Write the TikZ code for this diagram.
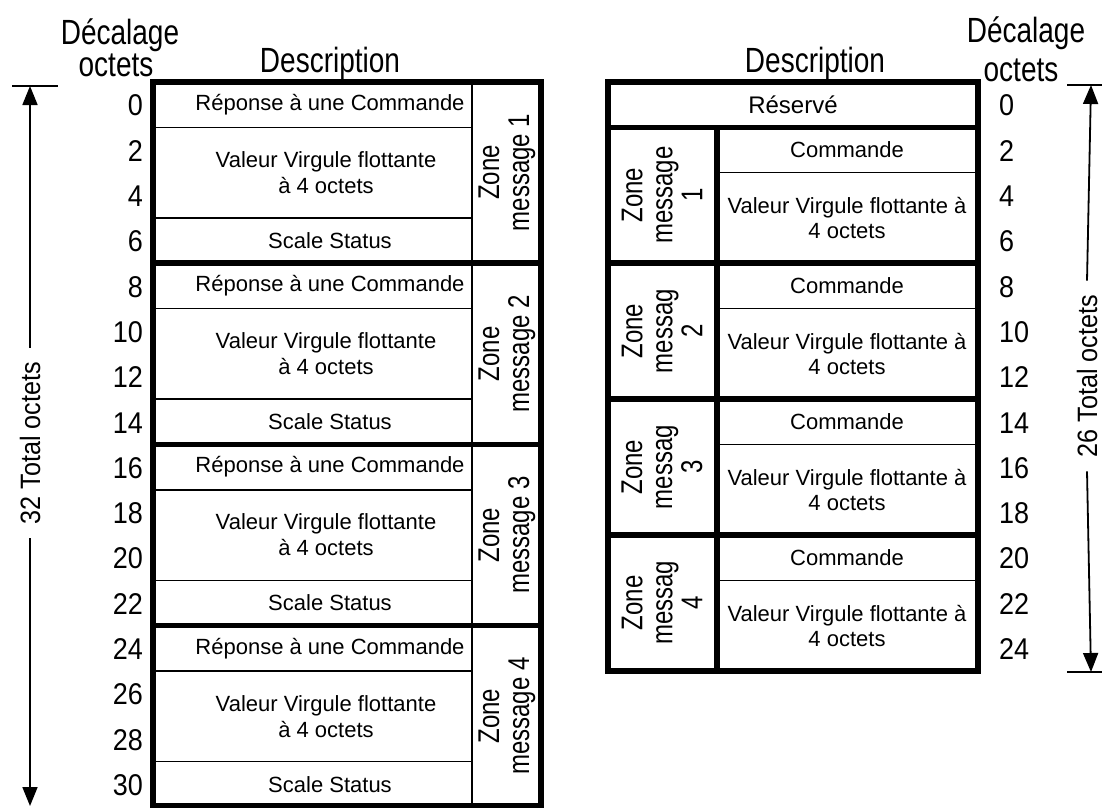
\documentclass[tikz,border=0pt]{standalone}
\usepackage{fontspec}
\setmainfont{Liberation Sans}
\newfontfamily\condfont[FakeStretch=0.8]{Liberation Sans}
\newfontfamily\numfont[FakeStretch=0.9]{Liberation Sans}
\usetikzlibrary{arrows.meta}
\newcommand\cellf{\fontsize{22}{26}\selectfont}
\newcommand\hdrf{\condfont\fontsize{35}{35}\selectfont}
\newcommand\numf{\numfont\fontsize{30}{30}\selectfont}
\newcommand\zonef{\condfont\fontsize{30}{30}\selectfont}
\newcommand\totf{\numfont\fontsize{28}{28}\selectfont}
\begin{document}
\begin{tikzpicture}[x=1pt,y=-1pt,
  fine rule/.style={line width=1.6pt},
  bold rule/.style={line width=5.5pt, line join=miter},
  cell/.style={font=\cellf, align=center, inner sep=0pt},
  zonelbl/.style={font=\zonef, align=center, rotate=90, inner sep=0pt},
  hdr/.style={font=\hdrf, anchor=base, inner sep=0pt},
  numl/.style={font=\numf, inner sep=0pt},
  totl/.style={font=\totf, rotate=90, inner xsep=14pt, inner ysep=0pt},
  dimarrow/.style={line width=1.8pt, -{Triangle[length=19pt,width=15pt]}},
  tick/.style={line width=1.4pt}]
\useasboundingbox (0,0) rectangle (1102,807);

% ---------- headers ----------
\node[hdr] (hL1) at (120,44) {Décalage};
\node[hdr] (hL2) at (116,76) {octets};
\node[hdr] (hL3) at (330,72) {Description};
\node[hdr] (hR1) at (1026,42) {Décalage};
\node[hdr] (hR2) at (1021,81) {octets};
\node[hdr] (hR3) at (815,72) {Description};

% ---------- left table ----------
\draw[fine rule] (472,82) -- (472,806);
\foreach \s in {0,1,2,3}{
  \pgfmathsetmacro\ka{82+22.65*(8*\s+2)}
  \pgfmathsetmacro\kb{82+22.65*(8*\s+6)}
  \draw[fine rule] (153,\ka) -- (472,\ka);
  \draw[fine rule] (153,\kb) -- (472,\kb);
  \pgfmathsetmacro\ya{82+22.65*(8*\s+1)}
  \pgfmathsetmacro\yb{82+22.65*(8*\s+4)}
  \pgfmathsetmacro\yc{82+22.65*(8*\s+7)}
  \pgfmathtruncatemacro\n{\s+1}
  \node[cell] (lrep\n) at (330,\ya) {Réponse à une Commande};
  \node[cell] (lval\n) at (326,\yb) {Valeur Virgule flottante\\à 4 octets};
  \node[cell] (lsta\n) at (330,\yc) {Scale Status};
  \node[zonelbl] (lzone\n) at (507,\yb) {Zone\\message \n};
}
\foreach \s in {1,2,3}{
  \pgfmathsetmacro\ka{82+22.65*(8*\s)}
  \draw[bold rule] (153,\ka) -- (541,\ka);
}
\draw[bold rule] (153,82) rectangle (541,806);

% left offsets
\foreach \k in {0,2,...,30}{
  \pgfmathsetmacro\yy{82+22.65*(\k+1)+1}
  \node[numl, anchor=east] (lo\k) at (143,\yy) {\k};
}

% ---------- right table ----------
\node[cell, font=\fontsize{24}{28}\selectfont] (rres) at (793,104.6) {Réservé};
\foreach \s in {0,1,2,3}{
  \pgfmathsetmacro\ka{82+22.65*(4+6*\s)}
  \draw[fine rule] (717,\ka) -- (978,\ka);
  \pgfmathsetmacro\ya{82+22.65*(3+6*\s)}
  \pgfmathsetmacro\yb{82+22.65*(6+6*\s)}
  \pgfmathtruncatemacro\n{\s+1}
  \node[cell] (rcmd\n) at (847,\ya) {Commande};
  \node[cell, font=\fontsize{22}{25}\selectfont] (rval\n) at (847,\yb) {Valeur Virgule flottante à\\4 octets};
}
\node[zonelbl] (rzone1) at (662,{82+22.65*5}) {Zone\\message\\1};
\node[zonelbl] (rzone2) at (662,{82+22.65*11}) {Zone\\messag\\2};
\node[zonelbl] (rzone3) at (662,{82+22.65*17}) {Zone\\messag\\3};
\node[zonelbl] (rzone4) at (662,{82+22.65*23}) {Zone\\messag\\4};
\foreach \k in {2,8,14,20}{
  \pgfmathsetmacro\ka{82+22.65*\k}
  \draw[bold rule] (608,\ka) -- (978,\ka);
}
\draw[bold rule] (717,{82+22.65*2}) -- (717,{82+22.65*26});
\draw[bold rule] (608,82) rectangle (978,{82+22.65*26});

% right offsets
\foreach \k in {0,2,...,24}{
  \pgfmathsetmacro\yy{82+22.65*(\k+1)+1}
  \node[numl, anchor=west] (ro\k) at (999,\yy) {\k};
}

% ---------- dimension arrows ----------
\coordinate (ltA) at (12,86);
\coordinate (ltB) at (58,86);
\coordinate (ltop) at (30,86);
\coordinate (lbot) at (30,806);
\draw[tick] (ltA) -- (ltB);
\node[totl] (ltot) at (30,443) {32 Total octets};
\draw[dimarrow] (ltot.east) -- (ltop);
\draw[dimarrow] (ltot.west) -- (lbot);

\coordinate (rtA) at (1067,85);
\coordinate (rtB) at (1102,85);
\coordinate (rbA) at (1067,672);
\coordinate (rbB) at (1102,672);
\coordinate (rtop) at (1091,85);
\coordinate (rbot) at (1091,672);
\draw[tick] (rtA) -- (rtB);
\draw[tick] (rbA) -- (rbB);
\node[totl] (rtot) at (1087,376) {26 Total octets};
\draw[dimarrow] (rtot.east) -- (rtop);
\draw[dimarrow] (rtot.west) -- (rbot);
\end{tikzpicture}
\end{document}
